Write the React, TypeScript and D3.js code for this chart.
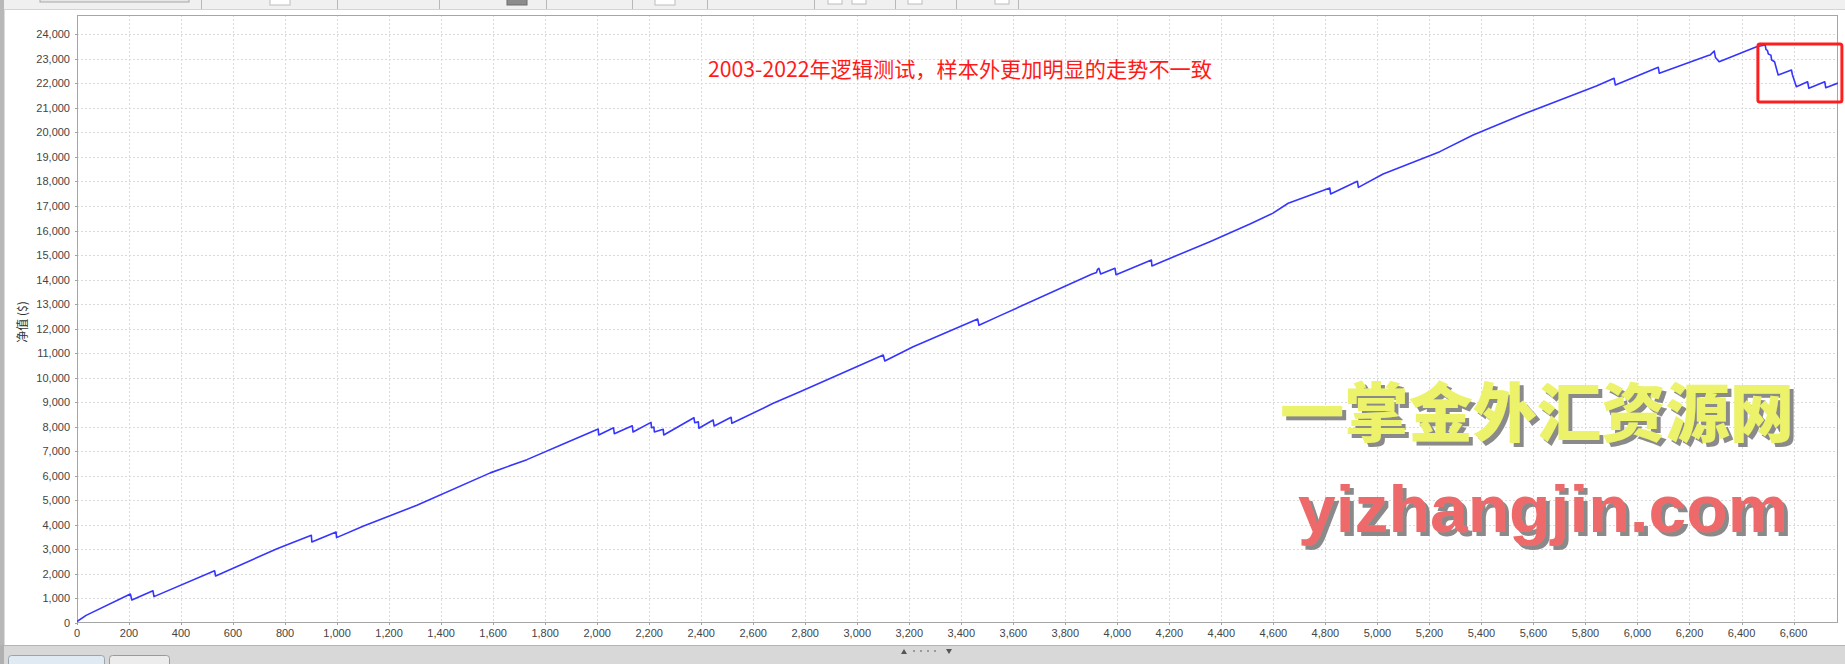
import React from 'react';
import * as d3 from 'd3';

const W = 1845;
const H = 664;

// trade number (x) and account equity (y)
const tradeNo = [
  0, 35, 205, 211, 292, 296, 529, 533, 769, 901, 903, 996, 998, 1102, 1307, 1589, 1730, 1883,
  2004, 2006, 2063, 2066, 2135, 2138, 2207, 2209, 2218, 2220, 2254, 2256, 2372, 2375, 2389, 2391,
  2446, 2450, 2515, 2518, 2677, 2780, 3100, 3106, 3215, 3463, 3468, 3549, 3901, 3920, 3924, 3929,
  3936, 3991, 3995, 4131, 4133, 4160, 4356, 4510, 4597, 4657, 4817, 4820, 4923, 4927, 5022, 5240,
  5368, 5560, 5842, 5910, 5915, 6080, 6084, 6272, 6280, 6295, 6300, 6314, 6458, 6491, 6494, 6500,
  6503, 6513, 6516, 6527, 6541, 6592, 6596, 6611, 6654, 6659, 6720, 6724, 6771,
];
const equity = [
  60, 310, 1180, 940, 1315, 1075, 2130, 1915, 3030, 3575, 3300, 3710, 3480, 3950, 4800, 6120, 6660, 7360,
  7910, 7665, 7960, 7715, 8040, 7785, 8180, 7960, 7990, 7790, 7895, 7665, 8370, 8165, 8200, 7940,
  8275, 8030, 8385, 8140, 8955, 9430, 10925, 10680, 11265, 12390, 12135, 12530, 14215, 14290, 14420, 14460,
  14230, 14460, 14200, 14800, 14555, 14680, 15545, 16265, 16700, 17110, 17735, 17490, 18005, 17760, 18305, 19215,
  19895, 20740, 21890, 22205, 21930, 22655, 22410, 23130, 23160, 23320, 23050, 22880, 23495, 23565, 23380, 23330,
  23200, 23150, 22950, 22880, 22340, 22545, 22340, 21865, 22065, 21800, 22065, 21820, 22010,
];

const xTicks = d3.range(0, 6601, 200);
const yTicks = d3.range(0, 24001, 1000);
const xDomain = [0, 6771];
const yDomain = [0, 24786];

const yAxisTitle = '净值 ($)';
const annotation = '2003-2022年逻辑测试，样本外更加明显的走势不一致';
const watermarkCn = '一掌金外汇资源网';
const watermarkEn = 'yizhangjin.com';
// highlighted out-of-sample region (data units)
const boxTrades = [6463, 6786];
const boxEquity = [21240, 23600];

const toolbarSeps = [201, 337, 439, 546, 632, 707, 814, 895, 956, 1018];

export default function App() {
  const left = 77, right = 1838, top = 15, bottom = 623;
  const x = d3.scaleLinear().domain(xDomain).range([left, right]);
  const y = d3.scaleLinear().domain(yDomain).range([bottom, top]);
  const pts = tradeNo.map((t, i) => [t, equity[i]] as [number, number]);
  const line = d3.line<[number, number]>().x(d => x(d[0])).y(d => y(d[1]))(pts) || '';
  const fmt = d3.format(',');
  const tickFont = '"Liberation Sans", Arial, sans-serif';

  return (
    <svg width={W} height={H} style={{ position: 'absolute', left: 0, top: 0, background: '#fff' }}>
      <defs>
        <clipPath id="plotClip">
          <rect x={left} y={top} width={right - left} height={bottom - top} />
        </clipPath>
        <filter id="wmShadow" x="-5%" y="-20%" width="115%" height="150%">
          <feDropShadow dx={4} dy={4} stdDeviation={0.6} floodColor="#8a8a8a" floodOpacity={1} />
        </filter>
      </defs>
      <rect x={0} y={0} width={W} height={H} fill="#ffffff" />

      {/* top toolbar */}
      <rect x={0} y={0} width={W} height={9} fill="#f0f0f0" />
      <line x1={0} x2={W} y1={9.5} y2={9.5} stroke="#d4d4d4" />
      <rect x={40} y={-4} width={149} height={6} fill="#e6e6e6" stroke="#a8a8a8" />
      {toolbarSeps.map((s, i) => (
        <line key={i} x1={s + 0.5} x2={s + 0.5} y1={0} y2={9} stroke="#b8b8b8" />
      ))}
      <rect x={270} y={-3} width={20} height={8} fill="#ffffff" stroke="#bcbcbc" />
      <rect x={507} y={-3} width={20} height={8} fill="#8c8c8c" stroke="#6c6c6c" />
      <rect x={655} y={-3} width={20} height={8} fill="#ffffff" stroke="#bcbcbc" />
      <rect x={828} y={-3} width={14} height={7} fill="#ffffff" stroke="#bcbcbc" />
      <rect x={852} y={-3} width={14} height={7} fill="#ffffff" stroke="#bcbcbc" />
      <rect x={908} y={-3} width={14} height={7} fill="#ffffff" stroke="#bcbcbc" />
      <rect x={995} y={-3} width={14} height={7} fill="#ffffff" stroke="#bcbcbc" />

      {/* left strip */}
      <rect x={0} y={0} width={4} height={H} fill="#b8b8b8" />
      <line x1={4.5} x2={4.5} y1={10} y2={645} stroke="#dcdcdc" />

      {/* grid */}
      <g clipPath="url(#plotClip)">
        {xTicks.map(t => (
          <line key={'gx' + t} x1={Math.round(x(t)) + 0.5} x2={Math.round(x(t)) + 0.5} y1={top} y2={bottom}
            stroke="#dadada" strokeDasharray="2,2" />
        ))}
        {yTicks.map(t => (
          <line key={'gy' + t} x1={left} x2={right} y1={Math.round(y(t)) + 0.5} y2={Math.round(y(t)) + 0.5}
            stroke="#dadada" strokeDasharray="2,2" />
        ))}
      </g>

      {/* plot outline */}
      <rect x={left + 0.5} y={top + 0.5} width={right - left - 1} height={bottom - top - 1} fill="none" stroke="#a6a6a6" />

      {/* y axis */}
      {yTicks.map(t => (
        <g key={'yt' + t}>
          <line x1={left - 2} x2={left} y1={Math.round(y(t)) + 0.5} y2={Math.round(y(t)) + 0.5} stroke="#a0a0a0" />
          <text x={70} y={y(t) + 4} textAnchor="end" fontFamily={tickFont} fontSize={11} fill="#444">
            {fmt(t)}
          </text>
        </g>
      ))}
      <text transform="translate(27,322) rotate(-90)" textAnchor="middle"
        fontFamily='"Noto Sans CJK SC", sans-serif' fontSize={12} fill="#333">
        {yAxisTitle}
      </text>

      {/* x axis */}
      {xTicks.map(t => (
        <g key={'xt' + t}>
          <line x1={Math.round(x(t)) + 0.5} x2={Math.round(x(t)) + 0.5} y1={bottom} y2={bottom + 2} stroke="#a0a0a0" />
          <text x={x(t)} y={637} textAnchor="middle" fontFamily={tickFont} fontSize={11} fill="#444">
            {fmt(t)}
          </text>
        </g>
      ))}

      {/* equity line */}
      <g clipPath="url(#plotClip)">
        <path d={line} fill="none" stroke="#3535ff" strokeWidth={1.6} strokeLinejoin="round" />
      </g>

      {/* annotation */}
      <text x={708} y={77} fontFamily='"Noto Sans CJK SC", sans-serif' fontSize={21} fill="#ff1a1a"
        textLength={504} lengthAdjust="spacingAndGlyphs">
        {annotation}
      </text>
      <rect x={x(boxTrades[0])} y={y(boxEquity[1])} width={x(boxTrades[1]) - x(boxTrades[0])}
        height={y(boxEquity[0]) - y(boxEquity[1])} rx={2} fill="none" stroke="#ff1e1e" strokeWidth={3} />

      {/* watermark */}
      <text x={1280} y={436} fill="#ecf26a" filter="url(#wmShadow)"
        fontFamily='"Noto Sans CJK SC", sans-serif' fontWeight={900} fontSize={64}
        textLength={514} lengthAdjust="spacingAndGlyphs">{watermarkCn}</text>
      <text x={1298} y={532} fill="#ee6b6b" filter="url(#wmShadow)"
        fontFamily='"Liberation Sans", Arial, sans-serif' fontWeight={700} fontSize={66}
        textLength={490} lengthAdjust="spacingAndGlyphs">{watermarkEn}</text>

      {/* bottom panel */}
      <rect x={0} y={645} width={W} height={19} fill="#d8d8d8" />
      <line x1={0} x2={W} y1={645.5} y2={645.5} stroke="#b4b4b4" />
      <rect x={0} y={645} width={4} height={19} fill="#b0b0b0" />
      <path d="M901,654 L904,649 L907,654 Z" fill="#555" />
      {[913, 920, 927, 934].map(cx => (
        <rect key={cx} x={cx} y={650} width={2} height={2} fill="#9a9a9a" />
      ))}
      <path d="M946,649 L952,649 L949,654 Z" fill="#555" />
      <rect x={8.5} y={655.5} width={96} height={12} rx={3} fill="#dfeaf2" stroke="#9aa4ac" />
      <rect x={109.5} y={655.5} width={60} height={12} rx={3} fill="#ececec" stroke="#9a9a9a" />
    </svg>
  );
}
